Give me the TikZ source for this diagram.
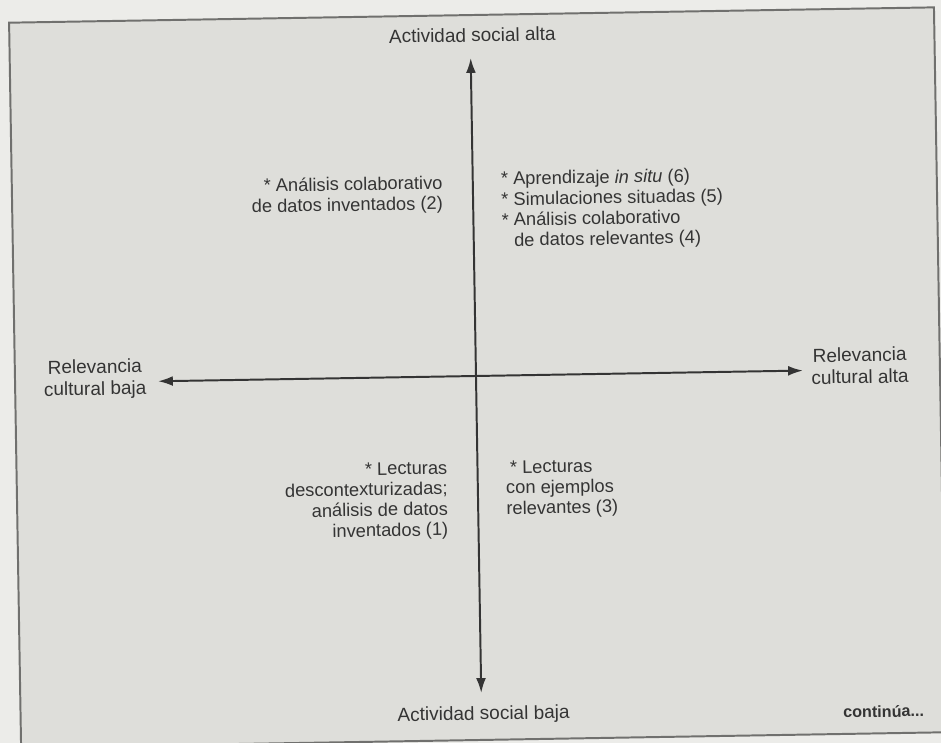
\documentclass[tikz,border=0pt]{standalone}
\usepackage{fontspec}
\setmainfont{Liberation Sans}
\usetikzlibrary{arrows.meta,positioning}

\definecolor{paper}{RGB}{236,236,233}
\definecolor{panel}{RGB}{222,222,218}
\definecolor{ink}{RGB}{52,52,52}
\definecolor{rule}{RGB}{112,112,110}

\begin{document}
\begin{tikzpicture}[x=0.025cm,y=-0.025cm,
                    axis node/.style={font=\fontsize{13.5}{15.6}\selectfont,text=ink,align=center,inner sep=0pt},
                    item node/.style={font=\fontsize{13}{14.6}\selectfont,text=ink,inner sep=0pt},
                    axis line/.style={draw=ink,line width=1.4pt,{Latex[length=10.5pt,width=7pt]}-{Latex[length=10.5pt,width=7pt]}}]

  \useasboundingbox (0,0) rectangle (941,743);
  \fill[paper] (0,0) rectangle (941,743);

  % the scan is turned by about one degree
  \begin{scope}[rotate around={0.95:(476,376)},transform shape]
  \filldraw[fill=panel,draw=rule,line width=1.4pt] (15,15) rectangle (940,740);

  \coordinate (N) at (476,58);
  \coordinate (S) at (476,693);
  \coordinate (W) at (158,376);
  \coordinate (E) at (803,376);

  \node[axis node] (alta) at (478,35) {Actividad social alta};
  \node[axis node] (baja) at (478,715) {Actividad social baja};
  \node[axis node] (rbaja) at (95,373) {Relevancia\\cultural baja};
  \node[axis node] (ralta) at (860,372) {Relevancia\\cultural alta};
  \node[axis node,font=\bfseries\fontsize{11.5}{14}\selectfont] (sigue) at (878,718) {continúa...};

  \path (S) edge[axis line] (N)
        (W) edge[axis line] (E);

  % base anchor sits on the last line
  \node[item node,align=right,anchor=base east] (q2) at (446,209)
    {* Análisis colaborativo\\de datos inventados (2)};
  \node[item node,align=left,anchor=base west] (q6) at (504,247)
    {* Aprendizaje \textit{in situ} (6)\\{*} Simulaciones situadas (5)\\{*} Análisis colaborativo\\\phantom{* }de datos relevantes (4)};
  \node[item node,align=right,anchor=base east] (q1) at (446,535)
    {* Lecturas\\descontexturizadas;\\análisis de datos\\inventados (1)};
  \node[item node,align=left,anchor=base west] (q3) at (504,515)
    {\hspace*{3pt}* Lecturas\\con ejemplos\\relevantes (3)};
  \end{scope}
\end{tikzpicture}
\end{document}
